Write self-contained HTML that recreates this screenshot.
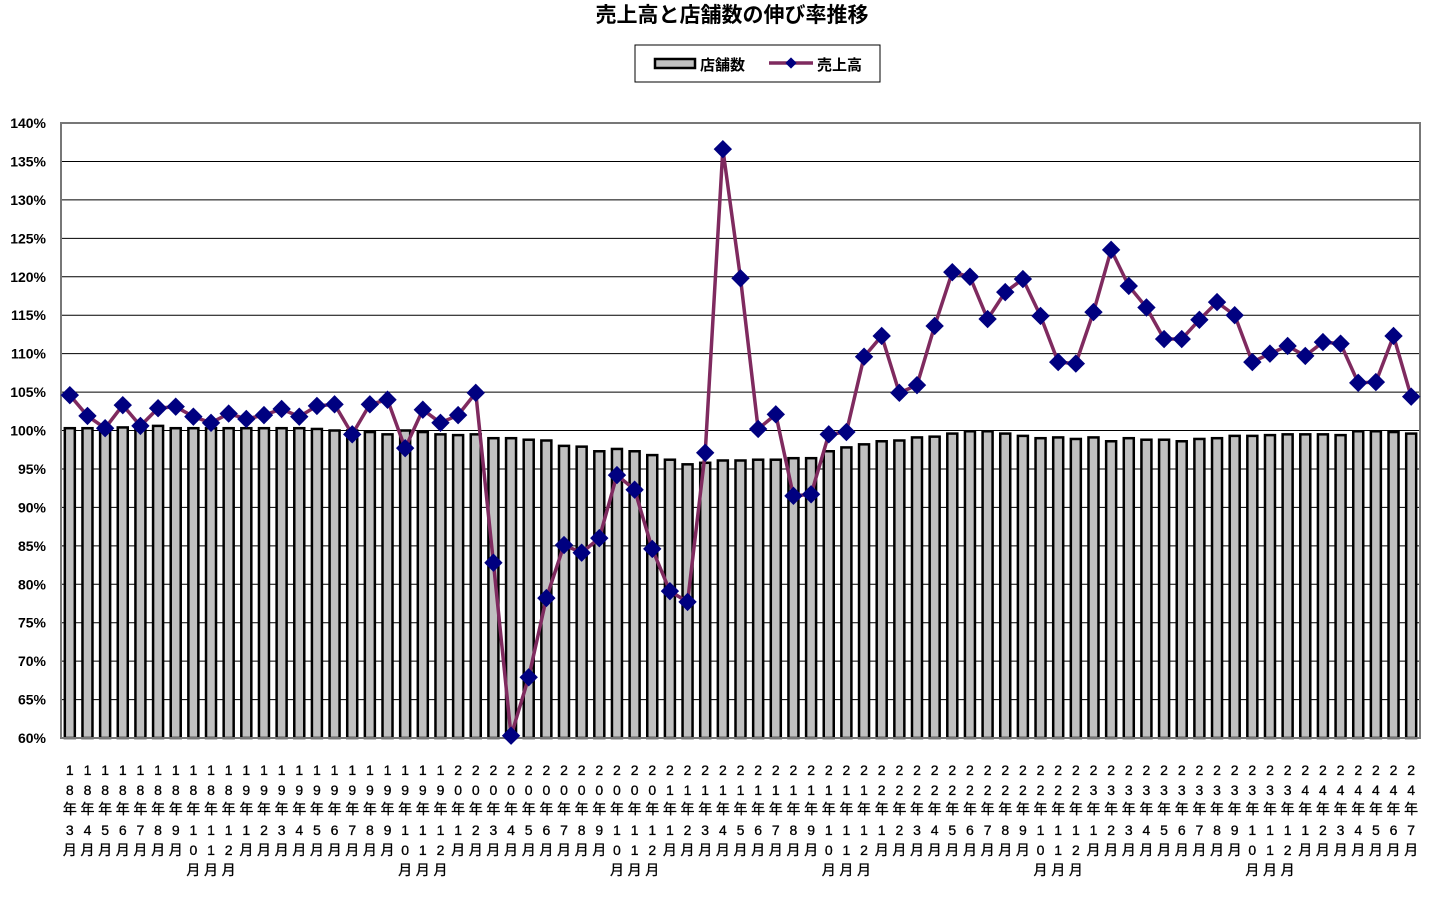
<!DOCTYPE html>
<html><head><meta charset="utf-8"><style>
html,body{margin:0;padding:0;background:#fff;width:1440px;height:900px;overflow:hidden}
svg{display:block}
text{font-family:"Liberation Sans","Noto Sans CJK JP",sans-serif;fill:#000}
</style></head><body>
<svg id="s" width="1440" height="900" xmlns="http://www.w3.org/2000/svg">
<text x="732" y="22" text-anchor="middle" font-size="21" font-weight="bold">売上高と店舗数の伸び率推移</text>
<rect x="635" y="45" width="245" height="37" fill="#fff" stroke="#000" stroke-width="1"/>
<rect x="655" y="59" width="40" height="9" fill="#c0c0c0" stroke="#000" stroke-width="2.5"/>
<text x="700" y="70" font-size="15" font-weight="bold">店舗数</text>
<line x1="769" y1="63" x2="813" y2="63" stroke="#7f2a5f" stroke-width="3.5"/>
<rect x="787" y="59" width="8" height="8" fill="#000080" transform="rotate(45 791 63)"/>
<text x="817" y="70" font-size="15" font-weight="bold">売上高</text>
<g id="g"></g>
</svg>
<script>
var sales=[104.6,101.9,100.3,103.3,100.6,102.9,103.1,101.8,101.0,102.2,101.5,102.0,102.8,101.8,103.2,103.4,99.5,103.4,104.0,97.7,102.7,101.0,102.0,104.9,82.8,60.3,67.9,78.2,85.1,84.1,86.0,94.2,92.3,84.6,79.1,77.7,97.1,136.6,119.8,100.2,102.1,91.5,91.7,99.5,99.8,109.6,112.3,104.9,105.9,113.6,120.6,120.0,114.5,118.0,119.7,114.9,108.9,108.7,115.4,123.5,118.8,116.0,111.9,111.9,114.4,116.7,115.0,108.9,110.0,111.0,109.7,111.5,111.3,106.2,106.3,112.3,104.4];
var stores=[100.3,100.3,100.2,100.4,100.4,100.6,100.3,100.3,100.3,100.3,100.3,100.3,100.3,100.3,100.2,100.0,100.0,99.8,99.5,100.0,99.8,99.5,99.4,99.5,99.0,99.0,98.8,98.7,98.0,97.9,97.3,97.6,97.3,96.8,96.2,95.6,95.8,96.1,96.1,96.2,96.2,96.4,96.4,97.3,97.8,98.2,98.6,98.7,99.1,99.2,99.6,99.9,99.9,99.6,99.3,99.0,99.1,98.9,99.1,98.6,99.0,98.8,98.8,98.6,98.9,99.0,99.3,99.3,99.4,99.5,99.5,99.5,99.4,99.9,99.9,99.8,99.6];
var L=61,R=1420,T=123,B=738,n=77,w=(R-L)/n;
function Y(v){return B-(v-60)*(B-T)/80}
var h='';
for(var k=0;k<=16;k++){var v=60+k*5,y=Y(v);
 if(k>0&&k<16)h+='<line x1="'+L+'" y1="'+y+'" x2="'+R+'" y2="'+y+'" stroke="#000" stroke-width="1"/>';
 h+='<text x="46" y="'+(y+5)+'" text-anchor="end" font-size="14" font-weight="bold">'+v+'%</text>';}
for(var i=0;i<n;i++){var cx=L+w*(i+0.5),y=Y(stores[i]);
 h+='<rect x="'+(cx-5)+'" y="'+y+'" width="10" height="'+(B-y)+'" fill="#c0c0c0" stroke="#000" stroke-width="2.5"/>';
 var yr=18+Math.floor((i+2)/12),mo=(i+2)%12+1;
 var ch=(String(yr)+'年'+String(mo)+'月').split('');
 var ys=[775,795,814,835,855,875];
 for(var j=0;j<ch.length;j++)h+='<text x="'+cx+'" y="'+ys[j]+'" text-anchor="middle" font-size="14" stroke="#000" stroke-width="0.3">'+ch[j]+'</text>';}
h+='<rect x="'+L+'" y="'+T+'" width="'+(R-L)+'" height="'+(B-T)+'" fill="none" stroke="#777" stroke-width="2"/>';
var p='';for(var i=0;i<n;i++)p+=(L+w*(i+0.5))+','+Y(sales[i])+' ';
h+='<polyline points="'+p+'" fill="none" stroke="#7f2a5f" stroke-width="3.5"/>';
for(var i=0;i<n;i++){var cx=L+w*(i+0.5),y=Y(sales[i]);
 h+='<rect x="'+(cx-6.5)+'" y="'+(y-6.5)+'" width="13" height="13" fill="#000080" transform="rotate(45 '+cx+' '+y+')"/>';}
document.getElementById('g').innerHTML=h;
</script>
</body></html>
